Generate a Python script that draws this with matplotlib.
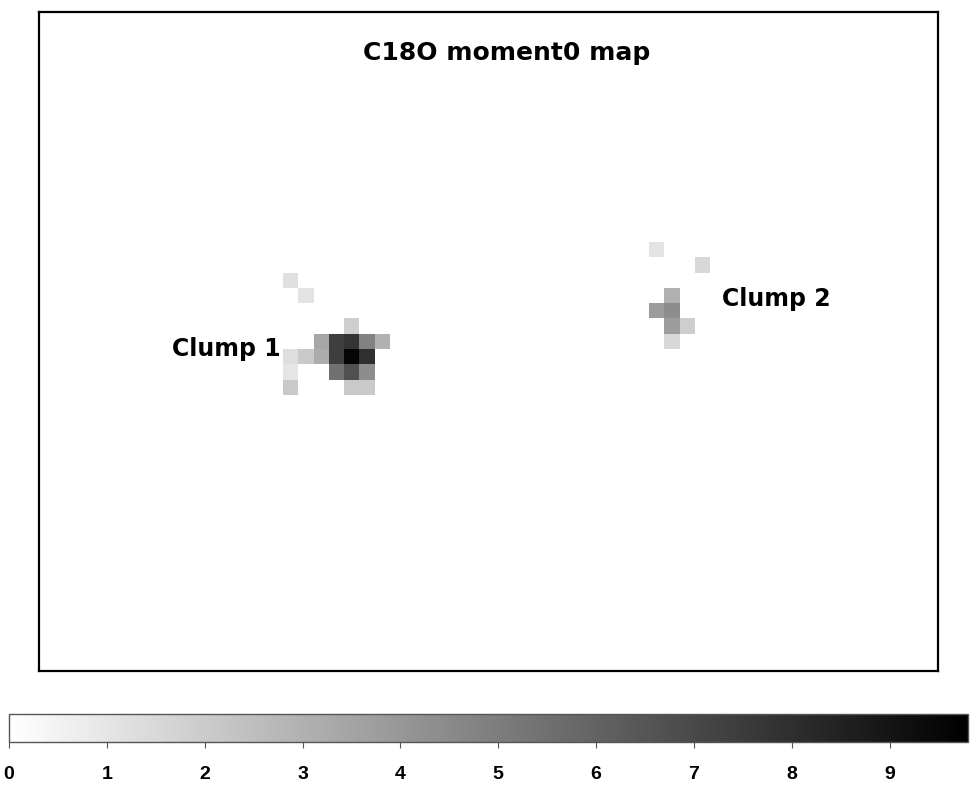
import numpy as np
import matplotlib
matplotlib.use("Agg")
import matplotlib.pyplot as plt
from matplotlib.colors import Normalize

# map size (pixels of the moment0 map)
n_rows = 43
n_cols = 59

# Clump 1 pixels: row, column, integrated intensity
clump1_rows = [17, 18, 20, 21, 21, 21, 21, 21, 22, 22, 22, 22, 22, 22, 23, 23, 23, 23, 24, 24, 24]
clump1_cols = [16, 17, 20, 18, 19, 20, 21, 22, 16, 17, 18, 19, 20, 21, 16, 19, 20, 21, 16, 20, 21]
clump1_vals = [1.2, 1.1, 1.9, 3.4, 7.4, 7.8, 4.8, 3.0, 1.3, 2.1, 3.2, 7.4, 9.6, 8.0, 1.0, 5.5, 6.7, 4.4, 2.1, 2.1, 2.1]

# Clump 2 pixels
clump2_rows = [15, 16, 18, 19, 19, 20, 20, 21]
clump2_cols = [40, 43, 41, 40, 41, 41, 42, 41]
clump2_vals = [1.1, 1.5, 3.0, 3.8, 4.4, 3.8, 1.9, 1.5]

vmin, vmax = 0, 9.8
cbar_ticks = [0, 1, 2, 3, 4, 5, 6, 7, 8, 9]

img = np.zeros((n_rows, n_cols))
for r, c, v in zip(clump1_rows + clump2_rows, clump1_cols + clump2_cols, clump1_vals + clump2_vals):
    img[r, c] = v

fig = plt.figure(figsize=(9.72, 7.86), dpi=100)
ax = fig.add_axes([39/972, 1 - 671/786, 899/972, 659/786])
norm = Normalize(vmin=vmin, vmax=vmax)
im = ax.imshow(img, cmap="gray_r", norm=norm, extent=(0, n_cols, n_rows, 0),
               aspect="auto", interpolation="nearest")
ax.set_xticks([])
ax.set_yticks([])
for s in ax.spines.values():
    s.set_linewidth(1.6)
    s.set_color("black")

ax.text(0.52, 0.938, "C18O moment0 map", transform=ax.transAxes,
        ha="center", va="center", fontsize=18, fontweight="bold")
ax.text(8.75, 22.0, "Clump 1", ha="left", va="center", fontsize=17, fontweight="bold")
ax.text(44.8, 18.75, "Clump 2", ha="left", va="center", fontsize=17, fontweight="bold")

# colorbar
cax = fig.add_axes([9/972, 1 - 742/786, 959/972, 28/786])
cb = fig.colorbar(im, cax=cax, orientation="horizontal", ticks=cbar_ticks)
cb.outline.set_edgecolor("#555555")
cb.outline.set_linewidth(1.0)
cax.tick_params(axis="x", length=4, width=0.8, color="#555555", pad=13)
for lbl in cax.get_xticklabels():
    lbl.set_fontfamily("Liberation Sans")
    lbl.set_fontweight("bold")
    lbl.set_fontsize(14)

fig.savefig("out.png", dpi=100)
